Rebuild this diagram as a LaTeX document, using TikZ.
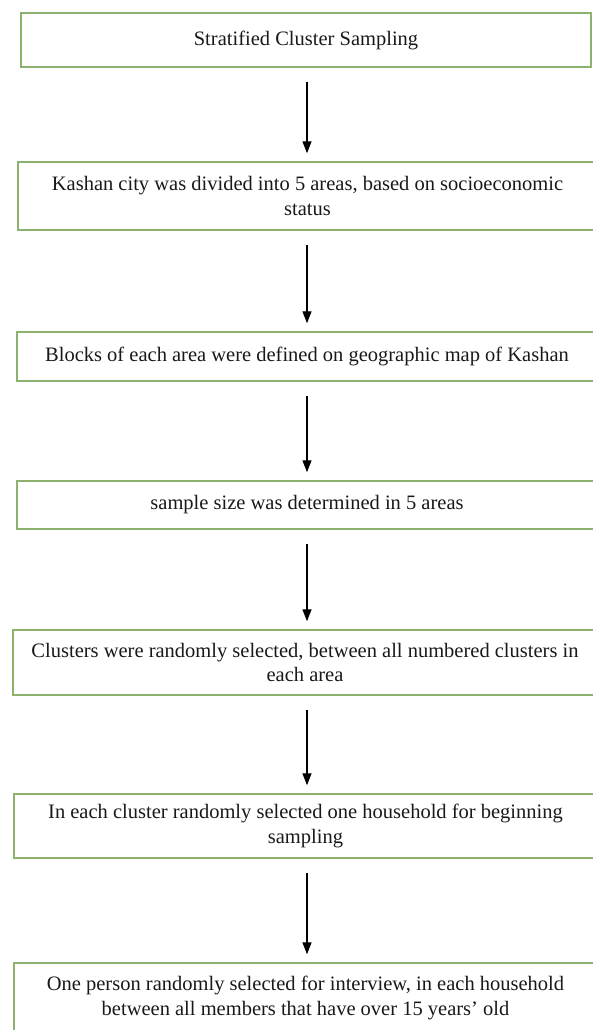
\documentclass[tikz,border=0pt]{standalone}
\usepackage{fontspec}
\setmainfont{Liberation Serif}
\usetikzlibrary{arrows.meta}
\definecolor{boxgreen}{RGB}{140,178,110}
\definecolor{txt}{RGB}{25,25,25}
\tikzset{
  stepbox/.style={draw=boxgreen, line width=1.5pt, fill=white, inner sep=0pt,
    align=center, text=txt, font=\fontsize{20.5}{24.5}\selectfont, anchor=center},
  arr/.style={line width=1.4pt, -{Triangle[length=12pt,width=9pt]}, shorten <=14pt, shorten >=8pt}
}
\begin{document}
\begin{tikzpicture}[x=1pt,y=-1pt]
\useasboundingbox (0,0) rectangle (592,1030);
\fill[white] (0,0) rectangle (592,1030);
\coordinate (ax) at (307,0);
\node[stepbox, minimum width=570pt, minimum height=54pt] (b1) at (306,40) {Stratified Cluster Sampling};
\node[stepbox, minimum width=579pt, minimum height=68pt] (b2) at (307.5,196) {Kashan city was divided into 5 areas, based on socioeconomic\\status};
\node[stepbox, minimum width=580pt, minimum height=49pt] (b3) at (307,356.5) {Blocks of each area were defined on geographic map of Kashan};
\node[stepbox, minimum width=580pt, minimum height=48pt] (b4) at (307,505) {sample size was determined in 5 areas};
\node[stepbox, minimum width=584pt, minimum height=65pt] (b5) at (305,662.5) {Clusters were randomly selected, between all numbered clusters in\\each area};
\node[stepbox, minimum width=583pt, minimum height=64pt] (b6) at (305.5,826) {In each cluster randomly selected one household for beginning\\sampling};
\node[stepbox, minimum width=583pt, minimum height=70pt] (b7) at (305.5,998) {One person randomly selected for interview, in each household\\between all members that have over 15 years' old};
\draw[arr] (b1.south -| ax) -- (b2.north -| ax);
\draw[arr] (b2.south -| ax) -- (b3.north -| ax);
\draw[arr] (b3.south -| ax) -- (b4.north -| ax);
\draw[arr] (b4.south -| ax) -- (b5.north -| ax);
\draw[arr] (b5.south -| ax) -- (b6.north -| ax);
\draw[arr] (b6.south -| ax) -- (b7.north -| ax);
\end{tikzpicture}
\end{document}
